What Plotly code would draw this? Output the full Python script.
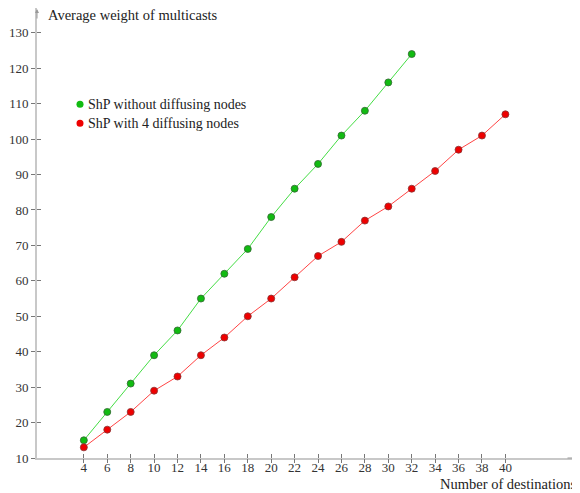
import plotly.graph_objects as go

dest_green = [4, 6, 8, 10, 12, 14, 16, 18, 20, 22, 24, 26, 28, 30, 32]
weight_green = [15, 23, 31, 39, 46, 55, 62, 69, 78, 86, 93, 101, 108, 116, 124]
dest_red = [4, 6, 8, 10, 12, 14, 16, 18, 20, 22, 24, 26, 28, 30, 32, 34, 36, 38, 40]
weight_red = [13, 18, 23, 29, 33, 39, 44, 50, 55, 61, 67, 71, 77, 81, 86, 91, 97, 101, 107]
x_ticks = list(range(4, 41, 2))
y_ticks = list(range(10, 131, 10))
name_green = "ShP without diffusing nodes"
name_red = "ShP with 4 diffusing nodes"

serif = "Liberation Serif"
green_fill, red_fill = "#11bb11", "#ee0000"

fig = go.Figure()
fig.add_trace(go.Scatter(x=dest_green, y=weight_green, mode="lines+markers",
                         line=dict(color="#44dd44", width=1),
                         marker=dict(color=green_fill, size=7, line=dict(color="#336633", width=0.8)),
                         showlegend=False))
fig.add_trace(go.Scatter(x=dest_red, y=weight_red, mode="lines+markers",
                         line=dict(color="#ff4444", width=1),
                         marker=dict(color=red_fill, size=7, line=dict(color="#883333", width=0.8)),
                         showlegend=False))
# dummy trace so overlay axes (other half of crossing ticks) are drawn
fig.add_trace(go.Scatter(x=[None], y=[None], xaxis="x2", yaxis="y2", showlegend=False))

tickfont = dict(family=serif, size=13, color="#333333")
tick_style = dict(ticklen=4, tickcolor="#777777", tickwidth=1)
line_style = dict(showgrid=False, zeroline=False, showline=True, linecolor="#c8c8c8", linewidth=2)

# page has an 8px body margin, so the figure is shrunk by 8px to fit the window
fig.update_layout(
    width=572, height=485,
    margin=dict(l=29, r=2, t=0, b=35),
    paper_bgcolor="white", plot_bgcolor="white",
    showlegend=False,
    xaxis=dict(range=[0, 46.2], tickvals=x_ticks, ticks="inside", tickfont=tickfont,
               ticklabelstandoff=-4, **line_style, **tick_style),
    yaxis=dict(range=[10, 137], tickvals=y_ticks, ticks="outside", tickfont=tickfont,
               **line_style, **tick_style),
    xaxis2=dict(range=[0, 46.2], tickvals=x_ticks, overlaying="x", anchor="y2", side="bottom",
                ticks="outside", showticklabels=False, showgrid=False, zeroline=False,
                showline=False, **tick_style),
    yaxis2=dict(range=[10, 137], tickvals=y_ticks, overlaying="y", anchor="x2", side="left",
                ticks="inside", showticklabels=False, showgrid=False, zeroline=False,
                showline=False, **tick_style),
    shapes=[
        dict(type="circle", xref="paper", yref="paper", x0=0.0795 - 0.0065, x1=0.0795 + 0.0065,
             y0=0.786 - 0.0078, y1=0.786 + 0.0078, fillcolor=green_fill, line=dict(width=0)),
        dict(type="circle", xref="paper", yref="paper", x0=0.0795 - 0.0065, x1=0.0795 + 0.0065,
             y0=0.744 - 0.0078, y1=0.744 + 0.0078, fillcolor=red_fill, line=dict(width=0)),
    ],
    annotations=[
        dict(text=name_green, xref="paper", yref="paper", x=0.091, y=0.786,
             xanchor="left", yanchor="middle", showarrow=False,
             font=dict(family=serif, size=14, color="#222222")),
        dict(text=name_red, xref="paper", yref="paper", x=0.091, y=0.744,
             xanchor="left", yanchor="middle", showarrow=False,
             font=dict(family=serif, size=14, color="#222222")),
        dict(text="Average weight of multicasts", xref="paper", yref="paper",
             x=0.016, y=0.984, xanchor="left", yanchor="middle", showarrow=False,
             font=dict(family=serif, size=14.5, color="#222222")),
        dict(text="Number of destinations", xref="paper", yref="paper",
             x=1.0, y=-0.035, xanchor="right", yanchor="top", showarrow=False,
             font=dict(family=serif, size=14.5, color="#222222")),
        dict(x=0, y=1.0, ax=0, ay=12, xref="paper", yref="paper", showarrow=True,
             arrowhead=2, arrowsize=0.8, arrowwidth=1, arrowcolor="#999999", text=""),
        dict(x=1.0, y=0, ax=-12, ay=0, xref="paper", yref="paper", showarrow=True,
             arrowhead=2, arrowsize=0.8, arrowwidth=1, arrowcolor="#999999", text=""),
    ],
)
fig.write_html("out.html")
